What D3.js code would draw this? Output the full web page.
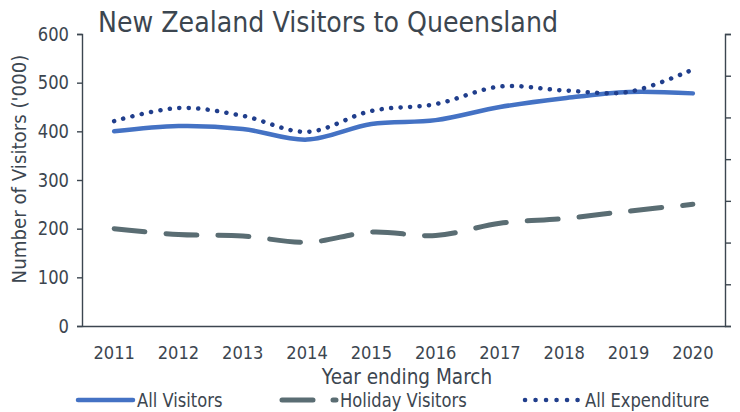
<!DOCTYPE html>
<html lang="en">
<head>
    <meta charset="UTF-8">
    <script src="https://d3js.org/d3.v7.min.js"></script>
    <title>New Zealand Visitors to Queensland</title>
    <style>
        body { margin: 0; background: #fff; }
        text { font-family: "DejaVu Sans", Verdana, sans-serif; fill: #3c4650; }
    </style>
</head>
<body>
<div id="Area"></div>
<script>
    // chart values
    const years = ["2011", "2012", "2013", "2014", "2015", "2016", "2017", "2018", "2019", "2020"];
    const allVisitors = [400, 411, 405, 383, 415, 423, 450, 468, 481, 478];
    const holidayVisitors = [200, 188, 185, 172, 193, 186, 211, 221, 236, 250];
    const allExpenditure = [421, 448, 432, 399, 442, 456, 492, 484, 481, 527];
    const leftTicks = [0, 100, 200, 300, 400, 500, 600];
    const rightTicks = [0, 1, 2, 3, 4, 5, 6, 7];
    const seriesNames = ["All Visitors", "Holiday Visitors", "All Expenditure"];

    const W = 740, H = 412;
    const plotLeft = 82, plotRight = 725, plotTop = 34, plotBottom = 326;
    const ink = "#3c4650";

    const svg = d3.select("#Area").append("svg")
        .attr("width", W).attr("height", H);

    // squeeze the wide DejaVu glyphs so they read like the narrower original face
    const squeeze = (sel, k) => sel.each(function () {
        const len = this.getComputedTextLength();
        d3.select(this).attr("textLength", len * k).attr("lengthAdjust", "spacingAndGlyphs");
    });

    const x = d3.scaleBand().domain(years).range([plotLeft, plotRight]).padding(0);
    const y = d3.scaleLinear().domain([0, 600]).range([plotBottom, plotTop]);
    const y2 = d3.scaleLinear().domain([0, 7]).range([plotBottom, plotTop]);

    // left axis
    const gL = svg.append("g").attr("transform", "translate(" + plotLeft + ",0)")
        .call(d3.axisLeft(y).tickValues(leftTicks).tickSize(5).tickPadding(8));
    gL.selectAll("path, line").attr("stroke", ink).attr("stroke-width", 1.4);
    gL.selectAll("text").style("font-size", "19px").attr("fill", ink).call(squeeze, 0.86);

    // right axis, ticks only
    const gR = svg.append("g").attr("transform", "translate(" + plotRight + ",0)")
        .call(d3.axisRight(y2).tickValues(rightTicks).tickSize(6).tickFormat(""));
    gR.selectAll("path, line").attr("stroke", ink).attr("stroke-width", 1.4);

    // bottom axis, no ticks
    const gB = svg.append("g").attr("transform", "translate(0," + plotBottom + ")")
        .call(d3.axisBottom(x).tickSize(0).tickPadding(20));
    gB.select(".domain").attr("stroke", ink).attr("stroke-width", 1.4);
    gB.selectAll("text").style("font-size", "18.5px").attr("fill", ink).call(squeeze, 0.88);

    const cx = d => x(d) + x.bandwidth() / 2;

    const line = vals => d3.line()
        .x((d, i) => cx(years[i]))
        .y(d => y(d))
        .curve(d3.curveCardinal.tension(0))(vals);

    svg.append("path").attr("d", line(holidayVisitors))
        .attr("fill", "none").attr("stroke", "#5a6d73").attr("stroke-width", 5)
        .attr("stroke-linecap", "round").attr("stroke-dasharray", "31,21");

    svg.append("path").attr("d", line(allVisitors))
        .attr("fill", "none").attr("stroke", "#4472c4").attr("stroke-width", 4.5)
        .attr("stroke-linecap", "round");

    svg.append("path").attr("d", line(allExpenditure))
        .attr("fill", "none").attr("stroke", "#203e8c").attr("stroke-width", 4.5)
        .attr("stroke-linecap", "round").attr("stroke-dasharray", "0.1,9.4");

    // title
    svg.append("text").attr("x", 98).attr("y", 31.5)
        .style("font-size", "29px").text("New Zealand Visitors to Queensland")
        .attr("textLength", 460).attr("lengthAdjust", "spacingAndGlyphs");

    // axis titles
    svg.append("text")
        .attr("transform", "translate(26,169) rotate(-90)")
        .attr("text-anchor", "middle").style("font-size", "20px")
        .text("Number of Visitors ('000)").call(squeeze, 0.91);

    svg.append("text").attr("x", 407).attr("y", 384)
        .attr("text-anchor", "middle").style("font-size", "20.5px")
        .text("Year ending March").call(squeeze, 0.9);

    // legend
    const legY = 400;
    const leg = [
        { x0: 78, x1: 133, tx: 137, color: "#4472c4", w: 4.5, dash: null },
        { x0: 282, x1: 336, tx: 340, color: "#5a6d73", w: 5, dash: "31,20" },
        { x0: 525, x1: 578, tx: 585, color: "#203e8c", w: 4.5, dash: "0.1,10.4" }
    ];
    leg.forEach((l, i) => {
        svg.append("line").attr("x1", l.x0).attr("x2", l.x1)
            .attr("y1", legY).attr("y2", legY)
            .attr("stroke", l.color).attr("stroke-width", l.w)
            .attr("stroke-linecap", "round")
            .attr("stroke-dasharray", l.dash);
        svg.append("text").attr("x", l.tx).attr("y", 406.5)
            .style("font-size", "19px").text(seriesNames[i]).call(squeeze, 0.86);
    });
</script>
</body>
</html>
